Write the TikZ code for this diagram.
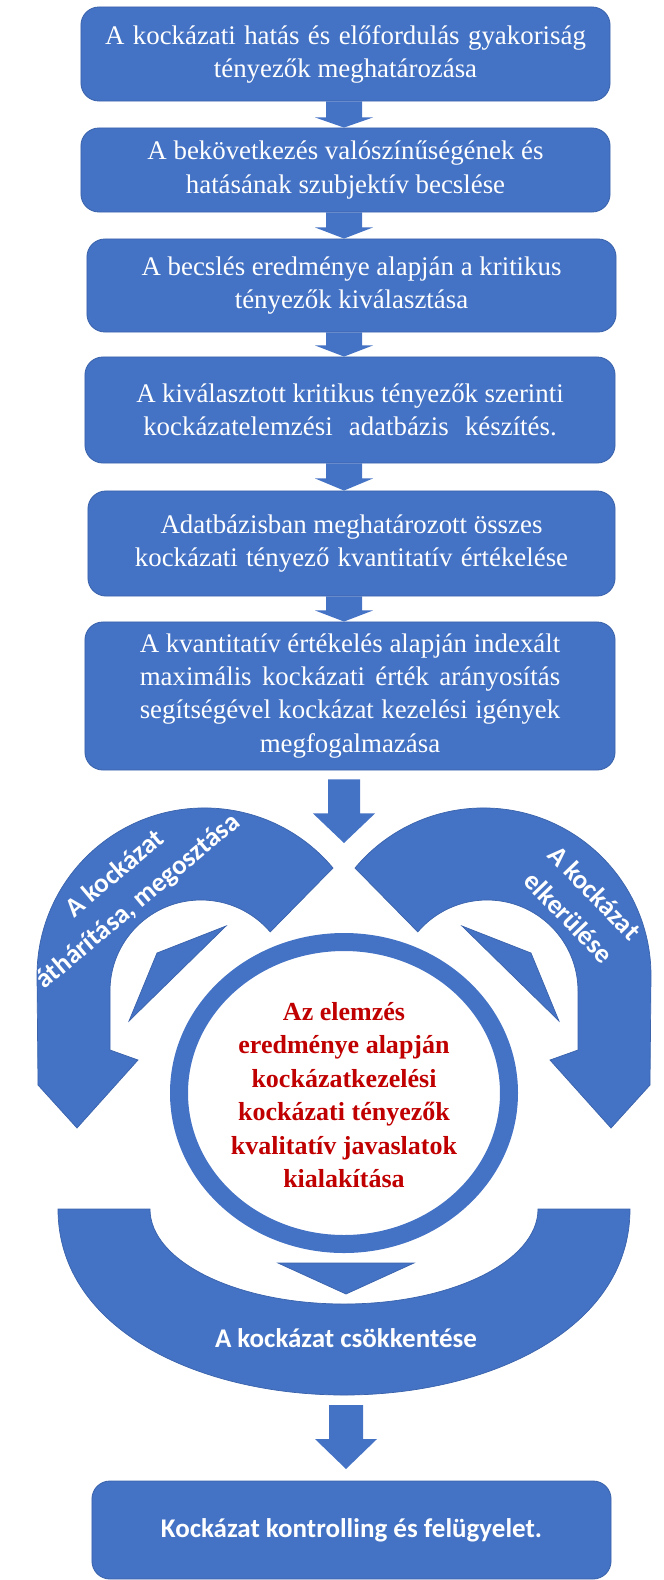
\documentclass[tikz,border=0pt]{standalone}
\usepackage{fontspec}
\setmainfont{Liberation Serif}
\newfontfamily\calfont{Carlito}
\usetikzlibrary{calc}
\definecolor{bblue}{HTML}{4472C4}
\definecolor{bedge}{HTML}{3A63AC}
\definecolor{dred}{HTML}{C00000}
\newcommand\jline[2]{\makebox[#1pt][s]{#2}}
\newcommand\blockarrow[3]{%
  \fill[bblue]
    ($(axis |- #1.south)+(-18,0)$) -- ($(axis |- #1.south)+(18,0)$)
    -- ($(axis |- #1.south)+(18,#3)$) -- ($(axis |- #1.south)+(29,#3)$)
    -- (axis |- #2.north)
    -- ($(axis |- #1.south)+(-29,#3)$) -- ($(axis |- #1.south)+(-18,#3)$) -- cycle;}
\def\leftband{(333,868) arc[start angle=-39.9, end angle=-180, radius=167.5]
  -- (38,1085) -- (77,1128) -- (138,1060) -- (110,1050) -- (110,991)
  arc[start angle=-180, end angle=-40.5, radius=91] -- cycle}
\begin{document}
\begin{tikzpicture}[x=0.025cm, y=-0.025cm,
  box/.style={draw=bedge, line width=0.6pt, fill=bblue, rounded corners=0.45cm,
    text=white, align=center, inner sep=0pt,
    font=\fontsize{19.1}{23.5}\selectfont},
  shapefill/.style={fill=bblue, draw=bedge, line width=0.5pt},
  bandtxt/.style={text=white, align=center, inner sep=0pt,
    font=\calfont\bfseries\fontsize{19.2}{25.5}\selectfont},
  redtxt/.style={text=dred, align=center, inner sep=0pt,
    font=\bfseries\fontsize{18.5}{23.8}\selectfont}]
\useasboundingbox (0,0) rectangle (664,1580);
\coordinate (axis) at (344,0);

\node[box, minimum width=13.225cm, minimum height=2.35cm] (b1) at (345.5,54)
  {\jline{342}{A kockázati hatás és előfordulás gyakoriság}\\tényezők meghatározása};
\node[box, minimum width=13.225cm, minimum height=2.1cm] (b2) at (345.5,170)
  {A bekövetkezés valószínűségének és\\hatásának szubjektív becslése};
\node[box, minimum width=13.225cm, minimum height=2.325cm] (b3) at (351.5,285.5)
  {A becslés eredménye alapján a kritikus\\tényezők kiválasztása};
\node[box, minimum width=13.25cm, minimum height=2.65cm] (b4) at (350,410)
  {\jline{304}{A kiválasztott kritikus tényezők szerinti}\\\jline{294}{kockázatelemzési adatbázis készítés.}};
\node[box, minimum width=13.175cm, minimum height=2.625cm] (b5) at (351.5,543.5)
  {Adatbázisban meghatározott összes\\\jline{308}{kockázati tényező kvantitatív értékelése}};
\node[box, minimum width=13.25cm, minimum height=3.7cm] (b6) at (350,696)
  {\jline{299}{A kvantitatív értékelés alapján indexált}\\\jline{299}{maximális kockázati érték arányosítás}\\\jline{299}{segítségével kockázat kezelési igények}\\megfogalmazása};

\blockarrow{b1}{b2}{16}
\blockarrow{b2}{b3}{15}
\blockarrow{b3}{b4}{13}
\blockarrow{b4}{b5}{15}
\blockarrow{b5}{b6}{14}

% arrow from b6 into the cycle
\coordinate (vtip) at (344,843);
\fill[bblue] ($(axis |- b6.south)+(-16,9)$) -- ($(axis |- b6.south)+(16,9)$)
  -- ($(axis |- b6.south)+(16,43)$) -- ($(axis |- b6.south)+(31,43)$) -- (vtip)
  -- ($(axis |- b6.south)+(-31,43)$) -- ($(axis |- b6.south)+(-16,43)$) -- cycle;

% left and right curved bands
\fill[shapefill] \leftband;
\begin{scope}[shift={(688,0)}, xscale=-1]
  \fill[shapefill] \leftband;
\end{scope}
% inner triangles
\fill[shapefill] (226,926) -- (157,953) -- (129,1021) -- cycle;
\fill[shapefill] (462,926) -- (531,953) -- (559,1021) -- cycle;

% ring
\draw[bblue, line width=0.45cm] (344,1093) ellipse [x radius=165, y radius=151];
\node[redtxt] (ct) at (344,1095)
  {Az elemzés\\eredménye alapján\\kockázatkezelési\\kockázati tényezők\\kvalitatív javaslatok\\kialakítása};

% bottom band
\fill[shapefill] (58,1209) -- (150,1209)
  arc[start angle=180, end angle=0, x radius=194, y radius=95]
  -- (630,1209) .. controls (630,1330) and (488,1395) .. (344,1395)
  .. controls (200,1395) and (58,1330) .. (58,1209) -- cycle;
\fill[shapefill] (278,1263) -- (414,1263) -- (346,1294) -- cycle;

\node[bandtxt, rotate=40] (lt) at (127,888) {A kockázat\\áthárítása, megosztása};
\node[bandtxt, rotate=-46] (rt) at (582,905) {A kockázat\\elkerülése};
\node[bandtxt] (bt) at (346,1338) {A kockázat csökkentése};

% bottom arrow and box
\node[box, minimum width=12.975cm, minimum height=2.45cm,
  font=\calfont\bfseries\fontsize{19.2}{24}\selectfont] (b7) at (351.5,1530)
  {Kockázat kontrolling és felügyelet.};
\coordinate (btop) at (344,1405);
\coordinate (btip) at (346,1469);
\fill[bblue] ($(btop)+(-15,0)$) -- ($(btop)+(19,0)$) -- ($(btop)+(19,34)$)
  -- ($(btop)+(33,34)$) -- (btip) -- ($(btop)+(-29,34)$) -- ($(btop)+(-15,34)$) -- cycle;
\end{tikzpicture}
\end{document}
